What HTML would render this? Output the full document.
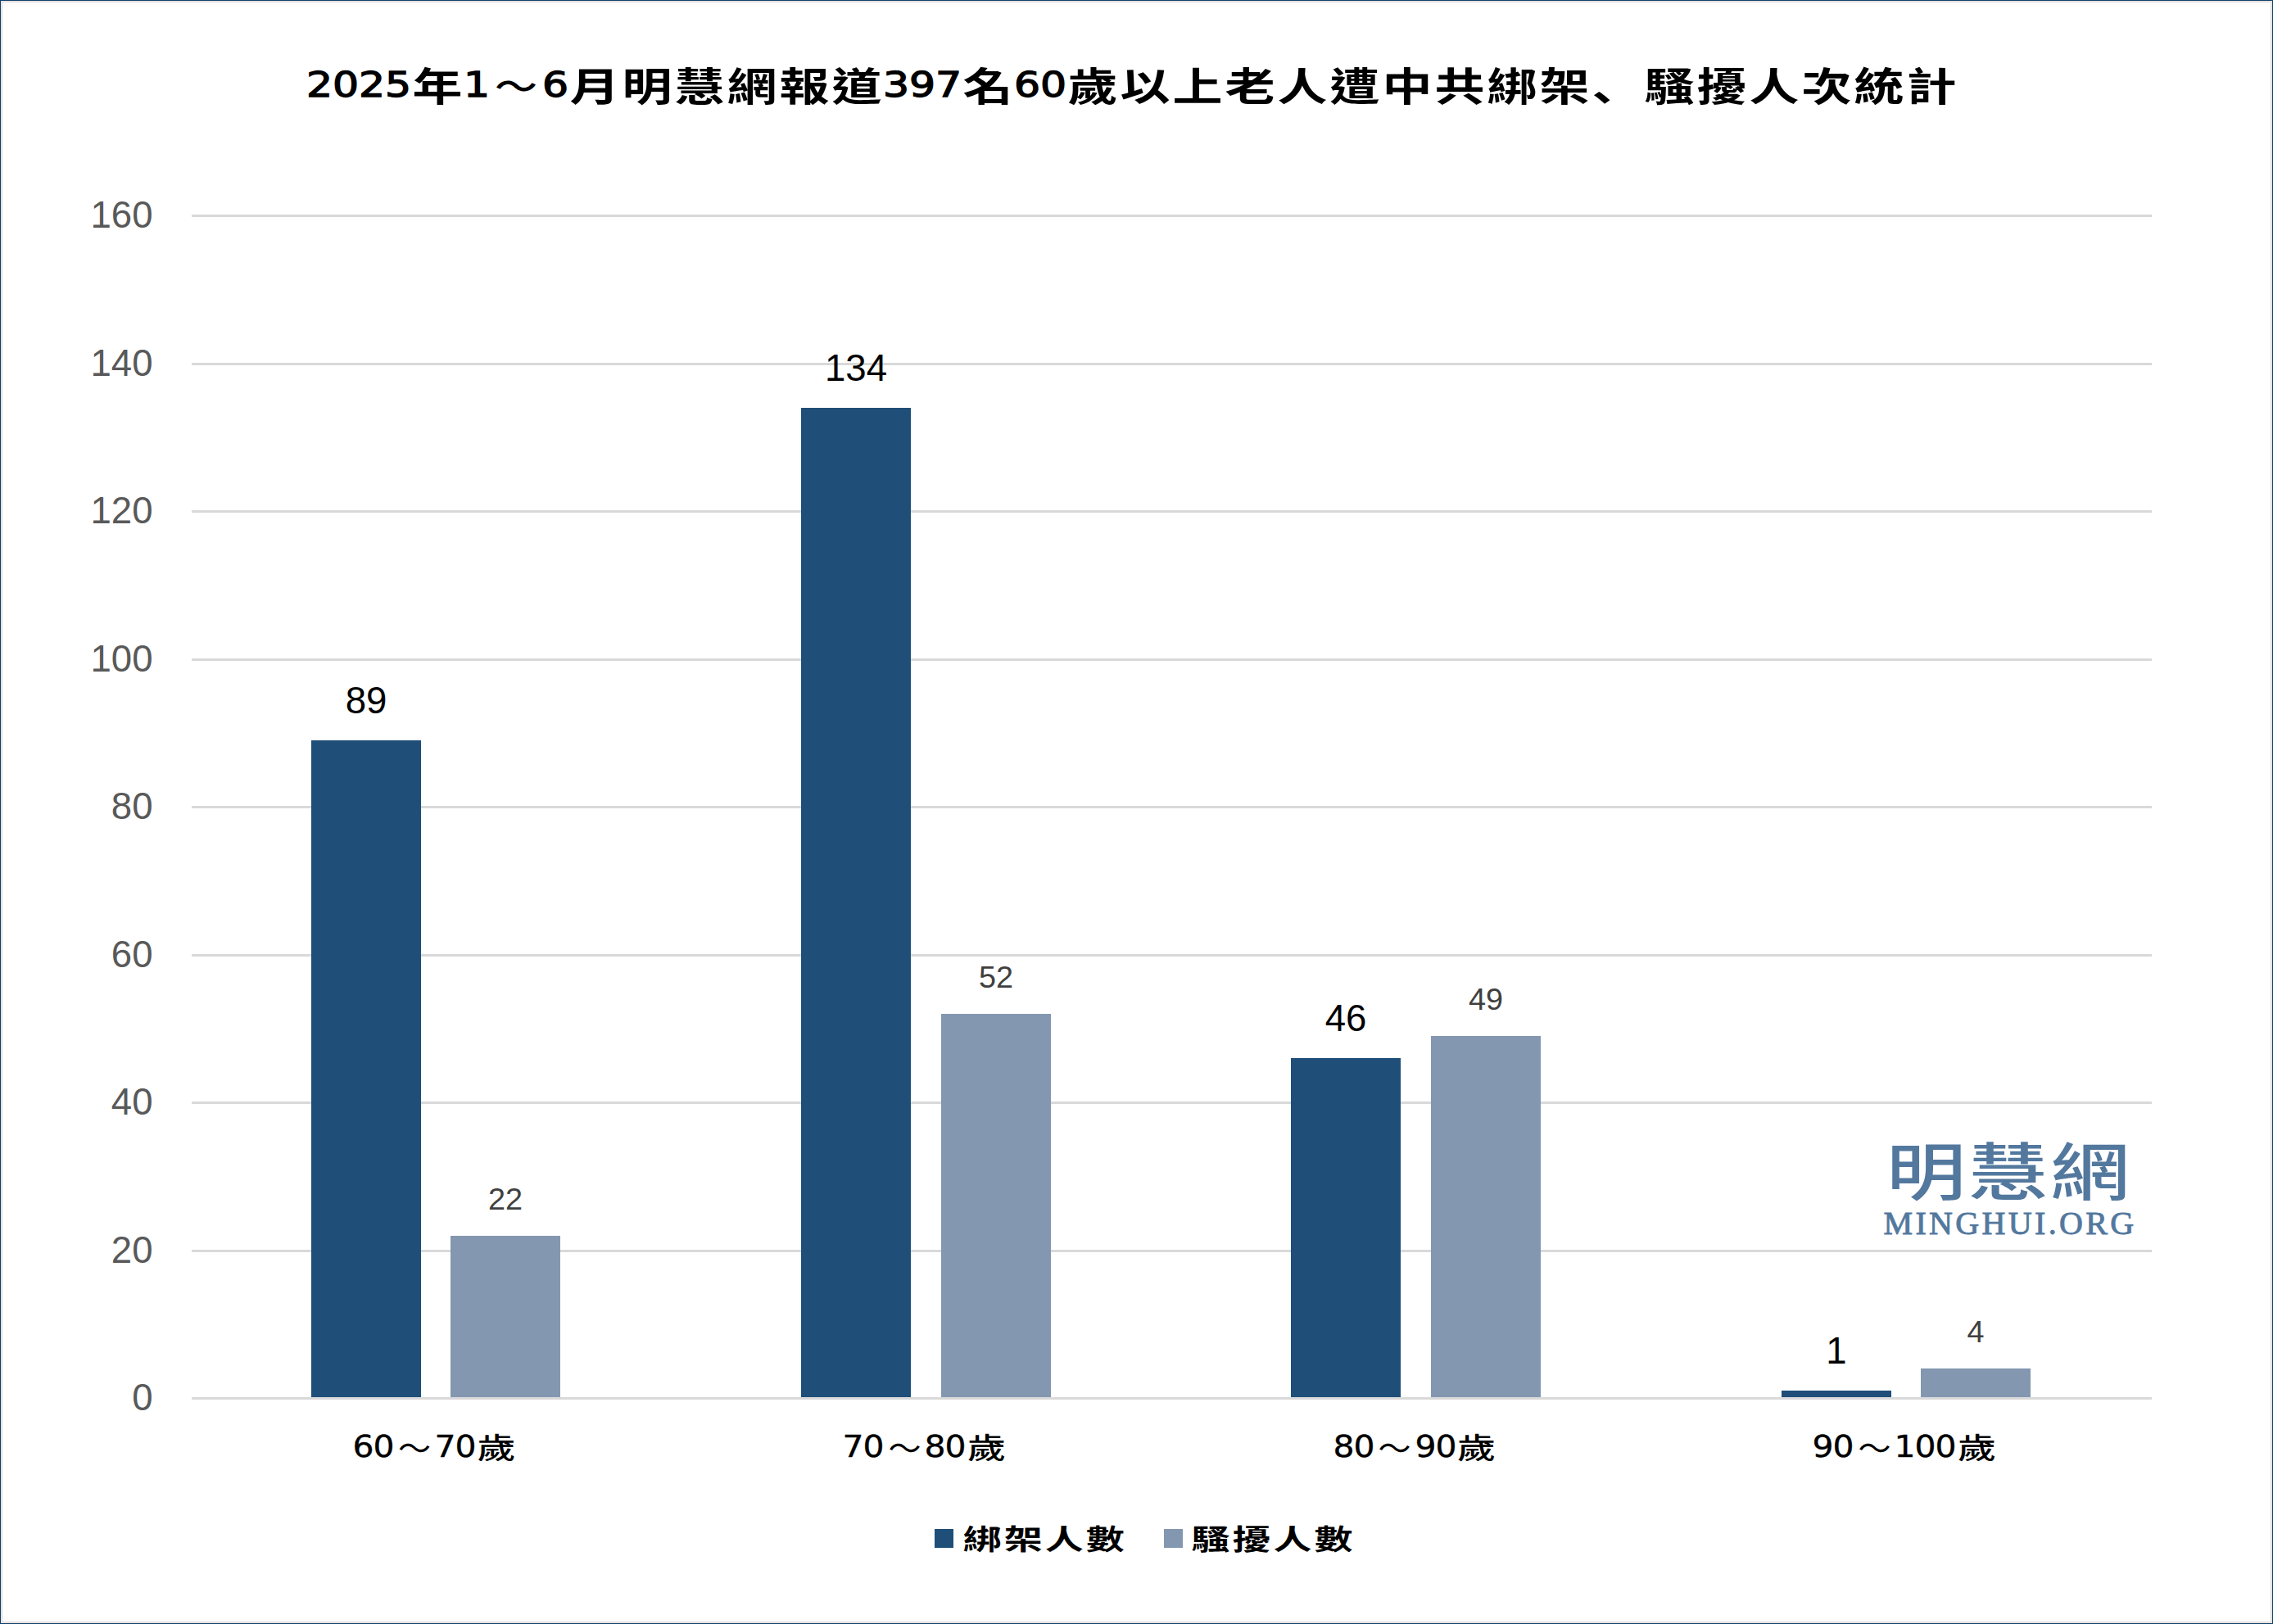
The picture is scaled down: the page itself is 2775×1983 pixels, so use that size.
<!DOCTYPE html>
<html lang="zh-Hant"><head><meta charset="utf-8"><title>2025年1～6月明慧網報道397名60歲以上老人遭中共綁架、騷擾人次統計</title>
<style>
html,body{margin:0;padding:0;background:#fff;}
body{width:2775px;height:1983px;overflow:hidden;position:relative;font-family:"Liberation Sans","Noto Sans CJK TC",sans-serif;}
#chart{position:absolute;left:0;top:0;width:2775px;height:1983px;background:#fff;box-shadow:inset 0 0 0 1px #0f3f6e,inset 0 0 0 2px #e8e4e0,inset 0 0 0 3px #d9d9d9;overflow:hidden;}
.g{position:absolute;left:233.5px;width:2393px;height:3px;background:#d9d9d9;}
.yl{position:absolute;left:60px;width:126.5px;text-align:right;font-size:45.6px;line-height:50px;height:50px;color:#595959;white-space:nowrap;}
.bar{position:absolute;}
.dl{position:absolute;width:200px;text-align:center;white-space:nowrap;}
.dl.a{font-size:45.6px;line-height:50px;height:50px;color:#000;}
.dl.b{font-size:37.8px;line-height:42px;height:42px;color:#404040;}
.cjk,.wave{font-family:"Noto Sans CJK TC","Noto Sans CJK SC",sans-serif;font-weight:700;display:inline-block;vertical-align:top;}
.wave{font-weight:400;text-align:center;}
.sc{font-family:"Noto Sans CJK SC","Noto Sans CJK JP",sans-serif;}
.num{font-family:"DejaVu Sans","Liberation Sans",sans-serif;display:inline-block;text-align:center;vertical-align:top;}
.num i{font-style:normal;display:inline-block;text-align:center;}
#title{position:absolute;left:374px;top:57.5px;width:2030px;height:90px;white-space:nowrap;color:#000;font-size:0;}
#title .cjk{font-size:61px;letter-spacing:3px;margin-left:1.5px;margin-right:-1.5px;line-height:90px;height:90px;transform:scaleY(0.775);transform-origin:50% 50%;}
#title .wave{font-size:52px;font-weight:500;width:64px;line-height:90px;height:90px;transform:scaleY(0.85);}
#title .num{font-size:42px;font-weight:400;-webkit-text-stroke:1.3px #000;line-height:92px;height:90px;}
#title .num i{width:32px;transform:scaleX(1.2);}
.cl{position:absolute;height:60px;white-space:nowrap;color:#000;font-size:0;text-align:center;width:400px;}
.cl .cjk{font-size:47px;letter-spacing:3px;margin-left:1.5px;margin-right:-1.5px;line-height:60px;height:60px;transform:scaleY(0.75);font-weight:500;}
.cl .wave{font-size:40px;width:50px;line-height:60px;height:60px;}
.cl .num{font-size:36.5px;line-height:61px;height:60px;-webkit-text-stroke:0.35px #000;}
.cl .num i{width:25px;transform:scaleX(1.12);}
.lg{position:absolute;top:1847px;height:60px;white-space:nowrap;font-size:0;color:#000;}
.lg .cjk{font-size:47px;letter-spacing:3px;line-height:60px;height:60px;transform:scaleY(0.73);}
.sw{position:absolute;top:1867px;width:23px;height:23px;}
#logo{position:absolute;left:2288px;top:1375.5px;width:330px;color:#53789e;text-align:center;}
#logo .zh{font-family:"Noto Sans CJK TC","Noto Sans CJK SC",sans-serif;font-weight:500;font-size:97px;line-height:100px;height:100px;letter-spacing:3px;display:block;transform:scaleY(0.78);white-space:nowrap;}
#logo .en{font-family:"Liberation Serif",serif;font-size:40px;line-height:44px;letter-spacing:3.35px;-webkit-text-stroke:0.9px #53789e;margin-top:-3.5px;margin-left:2px;display:block;white-space:nowrap;}
</style></head><body><div id="chart">

<div class="g" style="top:262.00px"></div>
<div class="g" style="top:442.50px"></div>
<div class="g" style="top:623.00px"></div>
<div class="g" style="top:803.50px"></div>
<div class="g" style="top:984.00px"></div>
<div class="g" style="top:1164.50px"></div>
<div class="g" style="top:1345.00px"></div>
<div class="g" style="top:1525.50px"></div>
<div class="g" style="top:1706.00px"></div>
<div class="yl" style="top:238.00px">160</div>
<div class="yl" style="top:418.50px">140</div>
<div class="yl" style="top:599.00px">120</div>
<div class="yl" style="top:779.50px">100</div>
<div class="yl" style="top:960.00px">80</div>
<div class="yl" style="top:1140.50px">60</div>
<div class="yl" style="top:1321.00px">40</div>
<div class="yl" style="top:1501.50px">20</div>
<div class="yl" style="top:1682.00px">0</div>
<div class="bar" style="left:380px;top:904.27px;width:134px;height:801.73px;background:#1f4e79"></div>
<div class="dl a" style="left:347.0px;top:830.67px">89</div>
<div class="bar" style="left:550px;top:1508.95px;width:134px;height:197.05px;background:#8497b0"></div>
<div class="dl b" style="left:517.0px;top:1442.85px">22</div>
<div class="bar" style="left:978px;top:498.15px;width:134px;height:1207.85px;background:#1f4e79"></div>
<div class="dl a" style="left:945.0px;top:424.55px">134</div>
<div class="bar" style="left:1149px;top:1238.20px;width:134px;height:467.80px;background:#8497b0"></div>
<div class="dl b" style="left:1116.0px;top:1172.10px">52</div>
<div class="bar" style="left:1576px;top:1292.35px;width:134px;height:413.65px;background:#1f4e79"></div>
<div class="dl a" style="left:1543.0px;top:1218.75px">46</div>
<div class="bar" style="left:1747px;top:1265.28px;width:134px;height:440.72px;background:#8497b0"></div>
<div class="dl b" style="left:1714.0px;top:1199.17px">49</div>
<div class="bar" style="left:2175px;top:1698.47px;width:134px;height:7.53px;background:#1f4e79"></div>
<div class="dl a" style="left:2142.0px;top:1624.88px">1</div>
<div class="bar" style="left:2345px;top:1671.40px;width:134px;height:34.60px;background:#8497b0"></div>
<div class="dl b" style="left:2312.0px;top:1605.30px">4</div>
<div class="cl" style="left:331.1px;top:1736px"><span class="num"><i>6</i><i>0</i></span><span class="wave">～</span><span class="num"><i>7</i><i>0</i></span><span class="cjk">歲</span></div>
<div class="cl" style="left:929.4px;top:1736px"><span class="num"><i>7</i><i>0</i></span><span class="wave">～</span><span class="num"><i>8</i><i>0</i></span><span class="cjk">歲</span></div>
<div class="cl" style="left:1527.6px;top:1736px"><span class="num"><i>8</i><i>0</i></span><span class="wave">～</span><span class="num"><i>9</i><i>0</i></span><span class="cjk">歲</span></div>
<div class="cl" style="left:2125.9px;top:1736px"><span class="num"><i>9</i><i>0</i></span><span class="wave">～</span><span class="num"><i>1</i><i>0</i><i>0</i></span><span class="cjk">歲</span></div>
<div id="title"><span class="num"><i>2</i><i>0</i><i>2</i><i>5</i></span><span class="cjk">年</span><span class="num"><i>1</i></span><span class="wave">～</span><span class="num"><i>6</i></span><span class="cjk">月明慧網報道</span><span class="num"><i>3</i><i>9</i><i>7</i></span><span class="cjk">名</span><span class="num"><i>6</i><i>0</i></span><span class="cjk">歲以上老人遭中共綁架<span class="sc" lang="zh-Hans">、</span>騷擾人次統計</span></div>
<div class="sw" style="left:1141px;background:#1f4e79"></div><div class="lg" style="left:1175.7px"><span class="cjk">綁架人數</span></div>
<div class="sw" style="left:1421px;background:#8497b0"></div><div class="lg" style="left:1454.5px"><span class="cjk">騷擾人數</span></div>
<div id="logo"><span class="zh">明慧網</span><span class="en">MINGHUI.ORG</span></div>
</div></body></html>
